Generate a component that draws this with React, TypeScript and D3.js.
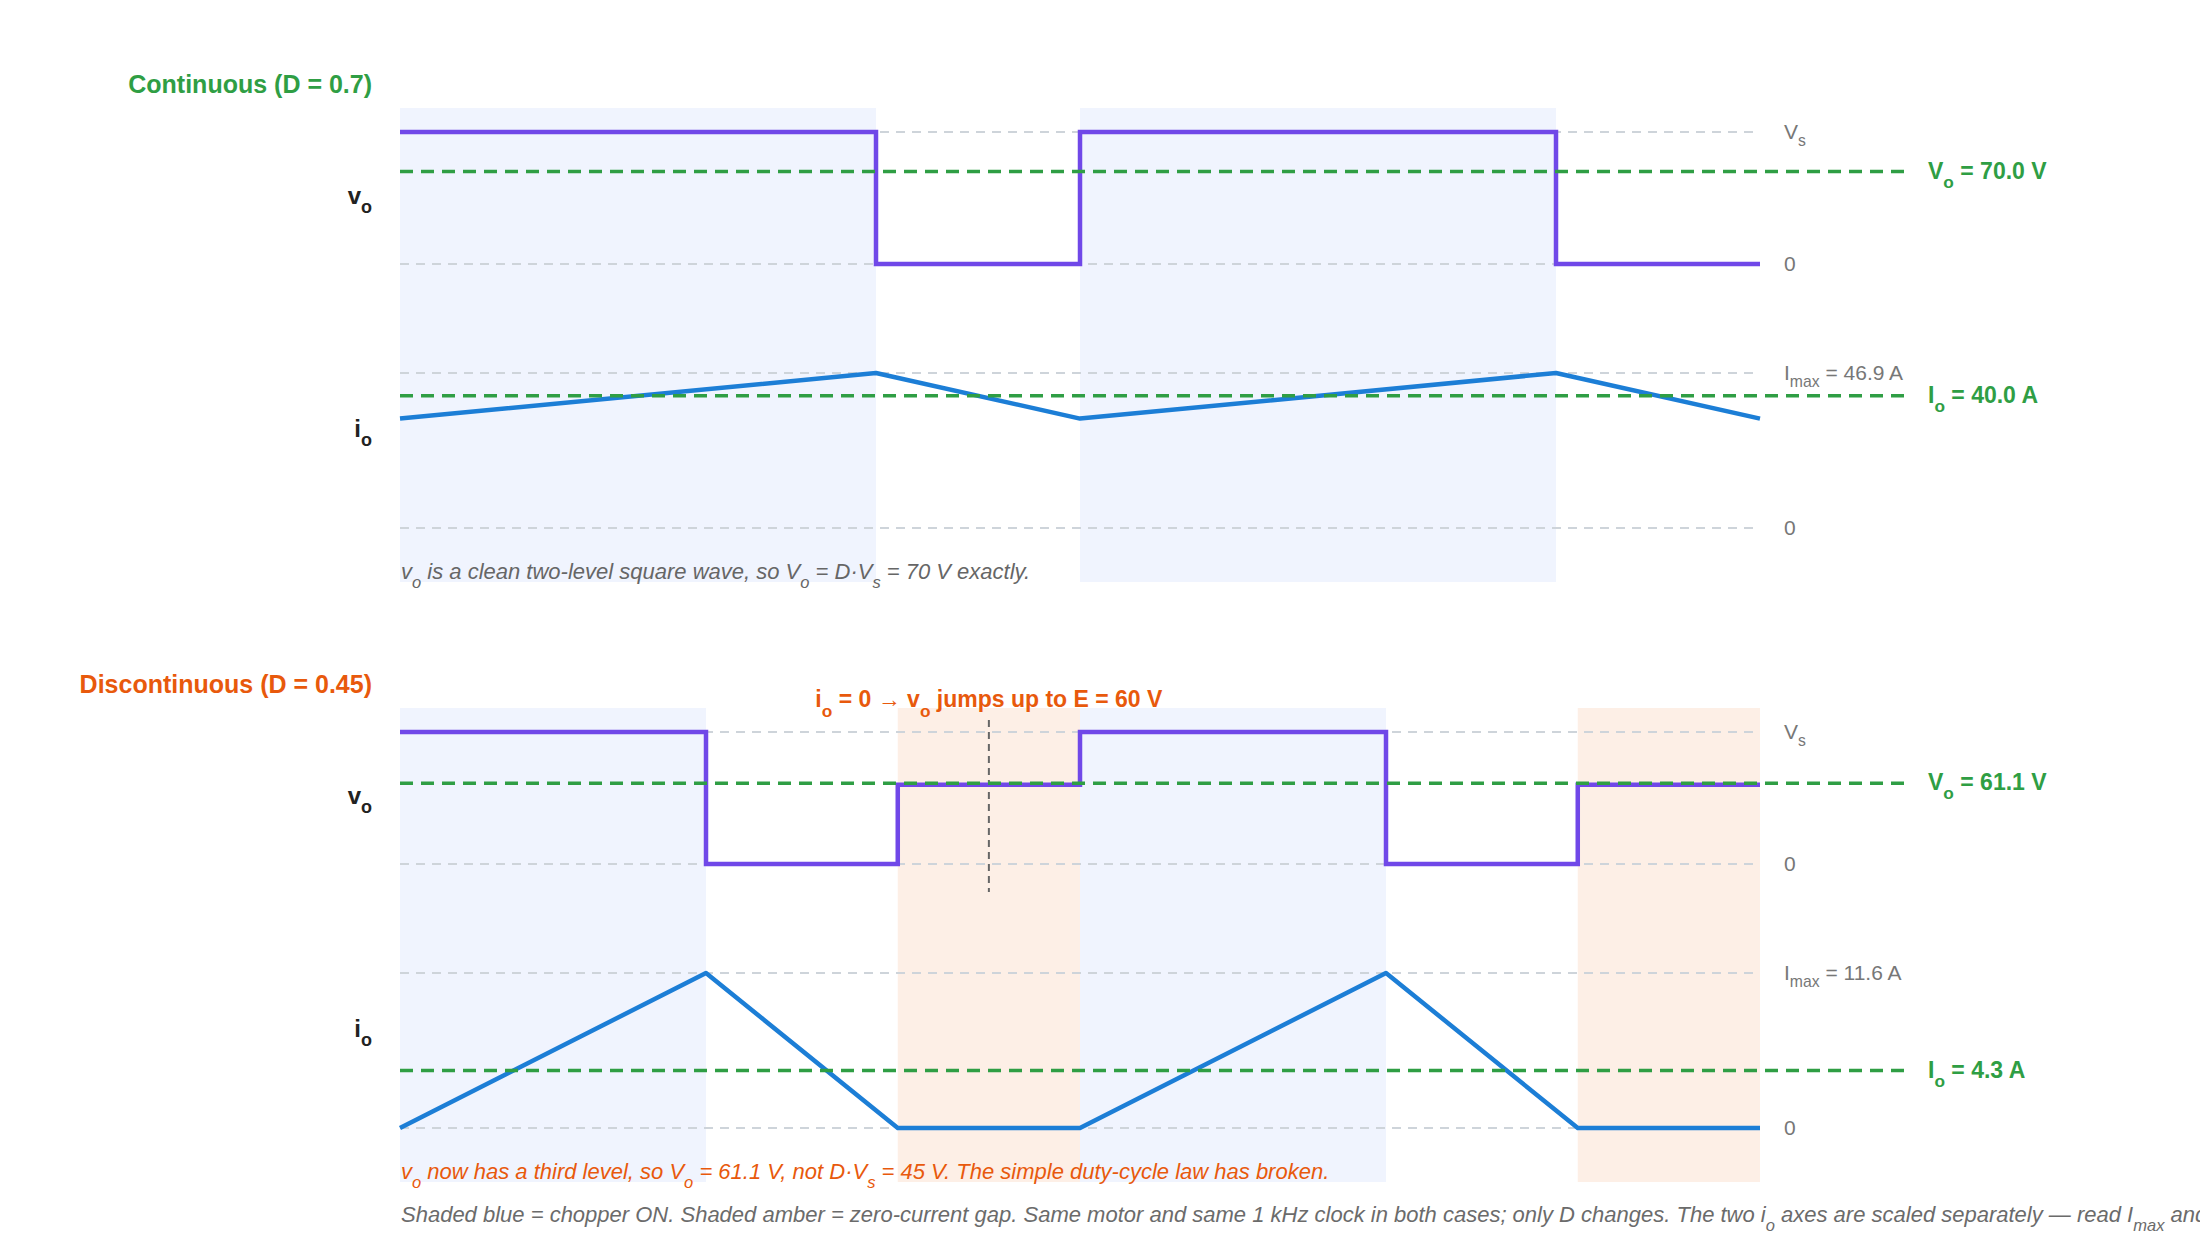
import React, { useEffect, useRef } from "react";
import * as d3 from "d3";

// time axis in ms (1 kHz clock, two periods shown)
const timeDomain = [0, 2];
const Vs = 100;

// continuous case, D = 0.7
const contTimes = [0, 0.7, 1, 1.7, 2];
const contVo = [100, 0, 100, 0, 0];
const contIo = [33.1, 46.9, 33.1, 46.9, 33.1];
const contOn = [[0, 0.7], [1, 1.7]];
const contVoAvg = 70.0;
const contImax = 46.9;
const contIoAvg = 40.0;

// discontinuous case, D = 0.45
const discTimes = [0, 0.45, 0.732, 1, 1.45, 1.732, 2];
const discVo = [100, 0, 60, 100, 0, 60, 60];
const discIo = [0, 11.6, 0, 0, 11.6, 0, 0];
const discOn = [[0, 0.45], [1, 1.45]];
const discGap = [[0.732, 1], [1.732, 2]];
const discVoAvg = 61.1;
const discImax = 11.6;
const discIoAvg = 4.3;
const backEmf = 60;

const FONT = "'Liberation Sans', Arial, Helvetica, sans-serif";
const PURPLE = "#7048e8";
const BLUE = "#1c7ed6";
const GREEN = "#2f9e44";
const ORANGE = "#e8590c";
const GRID = "#ced4da";
const TICK = "#777";

// parts: [text, isSub]
function richText(g, x, y, parts, attrs) {
  const t = g.append("text").attr("x", x).attr("y", y).attr("font-family", FONT);
  Object.entries(attrs).forEach(([k, v]) => t.attr(k, v));
  parts.forEach(([s, sub]) => {
    const ts = t.append("tspan").text(s);
    if (sub) ts.attr("baseline-shift", "sub").attr("font-size", "75%");
  });
  return t;
}

const App = () => {
  const svgRef = useRef();

  useEffect(() => {
    const width = 2200, height = 1260;
    const svg = d3.select(svgRef.current)
      .attr("width", width)
      .attr("height", height);
    svg.selectAll("*").remove();

    const x = d3.scaleLinear().domain(timeDomain).range([400, 1760]);
    const [xl, xr] = x.range();

    const panels = [
      {
        top: 108, title: "Continuous (D = 0.7)", titleColor: GREEN,
        times: contTimes, vo: contVo, io: contIo, on: contOn, gap: [],
        voAvg: contVoAvg, imax: contImax, ioAvg: contIoAvg,
        caption: [["v"], ["o", true], [" is a clean two-level square wave, so V"], ["o", true], [" = D·V"], ["s", true], [" = 70 V exactly."]],
        captionColor: "#666",
      },
      {
        top: 708, title: "Discontinuous (D = 0.45)", titleColor: ORANGE,
        times: discTimes, vo: discVo, io: discIo, on: discOn, gap: discGap,
        voAvg: discVoAvg, imax: discImax, ioAvg: discIoAvg,
        caption: [["v"], ["o", true], [" now has a third level, so V"], ["o", true], [" = 61.1 V, not D·V"], ["s", true], [" = 45 V. The simple duty-cycle law has broken."]],
        captionColor: ORANGE,
      },
    ];

    panels.forEach((p, pi) => {
      const g = svg.append("g");
      const yV = d3.scaleLinear().domain([0, Vs]).range([p.top + 156, p.top + 24]);
      const yI = d3.scaleLinear().domain([0, p.imax]).range([p.top + 420, p.top + 265]);
      const bandBottom = p.top + 474;

      // shaded intervals
      g.selectAll("rect.on").data(p.on).join("rect")
        .attr("x", d => x(d[0])).attr("width", d => x(d[1]) - x(d[0]))
        .attr("y", p.top).attr("height", bandBottom - p.top)
        .attr("fill", "#f0f4fe");
      g.selectAll("rect.gap").data(p.gap).join("rect")
        .attr("x", d => x(d[0])).attr("width", d => x(d[1]) - x(d[0]))
        .attr("y", p.top).attr("height", bandBottom - p.top)
        .attr("fill", "#fdefe6");

      // reference grid lines
      const grid = [yV(Vs), yV(0), yI(p.imax), yI(0)];
      g.selectAll("line.grid").data(grid).join("line")
        .attr("x1", xl).attr("x2", xr).attr("y1", d => d).attr("y2", d => d)
        .attr("stroke", GRID).attr("stroke-width", 2).attr("stroke-dasharray", "9,7");

      const tickAttrs = { "font-size": 21, fill: TICK, "dominant-baseline": "middle" };
      richText(g, xr + 24, yV(Vs) + 1, [["V"], ["s", true]], tickAttrs);
      richText(g, xr + 24, yV(0) + 1, [["0"]], tickAttrs);
      richText(g, xr + 24, yI(p.imax) + 1, [["I"], ["max", true], [` = ${p.imax.toFixed(1)} A`]], tickAttrs);
      richText(g, xr + 24, yI(0) + 1, [["0"]], tickAttrs);

      // annotation for the zero-current gap
      if (p.gap.length) {
        const xm = x((p.gap[0][0] + p.gap[0][1]) / 2);
        g.append("line")
          .attr("x1", xm).attr("x2", xm).attr("y1", p.top + 12).attr("y2", p.top + 184)
          .attr("stroke", "#666").attr("stroke-width", 2).attr("stroke-dasharray", "7,5");
        richText(g, xm, p.top - 1, [["i"], ["o", true], [" = 0 → v"], ["o", true], [` jumps up to E = ${backEmf} V`]],
          { "font-size": 23, "font-weight": "bold", fill: ORANGE, "text-anchor": "middle" });
      }

      // waveforms
      const pts = p.times.map((t, i) => ({ t, v: p.vo[i], i: p.io[i] }));
      const vLine = d3.line().x(d => x(d.t)).y(d => yV(d.v)).curve(d3.curveStepAfter);
      const iLine = d3.line().x(d => x(d.t)).y(d => yI(d.i));
      g.append("path").datum(pts).attr("d", vLine)
        .attr("fill", "none").attr("stroke", PURPLE).attr("stroke-width", 4.5);
      g.append("path").datum(pts).attr("d", iLine)
        .attr("fill", "none").attr("stroke", BLUE).attr("stroke-width", 4.5)
        .attr("stroke-linejoin", "round");

      // averages
      const avg = [
        { y: yV(p.voAvg), parts: [["V"], ["o", true], [` = ${p.voAvg.toFixed(1)} V`]] },
        { y: yI(p.ioAvg), parts: [["I"], ["o", true], [` = ${p.ioAvg.toFixed(1)} A`]] },
      ];
      avg.forEach(a => {
        g.append("line")
          .attr("x1", xl).attr("x2", 1911).attr("y1", a.y).attr("y2", a.y)
          .attr("stroke", GREEN).attr("stroke-width", 3.5).attr("stroke-dasharray", "13,8");
        richText(g, 1928, a.y + 1, a.parts,
          { "font-size": 23, "font-weight": "bold", fill: GREEN, "dominant-baseline": "middle" });
      });

      // titles and row labels
      richText(g, 372, p.top - 22, [[p.title]],
        { "font-size": 25, "font-weight": "bold", fill: p.titleColor, "text-anchor": "end", "dominant-baseline": "middle" });
      richText(g, 372, (yV(0) + yV(Vs)) / 2, [["v"], ["o", true]],
        { "font-size": 24, "font-weight": "bold", fill: "#222", "text-anchor": "end", "dominant-baseline": "middle" });
      richText(g, 372, p.top + 323, [["i"], ["o", true]],
        { "font-size": 24, "font-weight": "bold", fill: "#222", "text-anchor": "end", "dominant-baseline": "middle" });

      richText(g, 401, p.top + 471, p.caption,
        { "font-size": 22, "font-style": "italic", fill: p.captionColor });

      // footnote runs past the right edge, as in the original
      if (pi === 1) {
        richText(g, 401, p.top + 514,
          [["Shaded blue = chopper ON. Shaded amber = zero-current gap. Same motor and same 1 kHz clock in both cases; only D changes. The two i"], ["o", true], [" axes are scaled separately — read I"], ["max", true], [" and"]],
          { "font-size": 22, "font-style": "italic", fill: "#6b6b6b" });
      }
    });
  }, []);

  return (
    <div style={{ position: "absolute", left: 0, top: 0, width: 2200, height: 1260, overflow: "hidden" }}>
      <svg ref={svgRef} style={{ display: "block" }}></svg>
    </div>
  );
};

export default App;
